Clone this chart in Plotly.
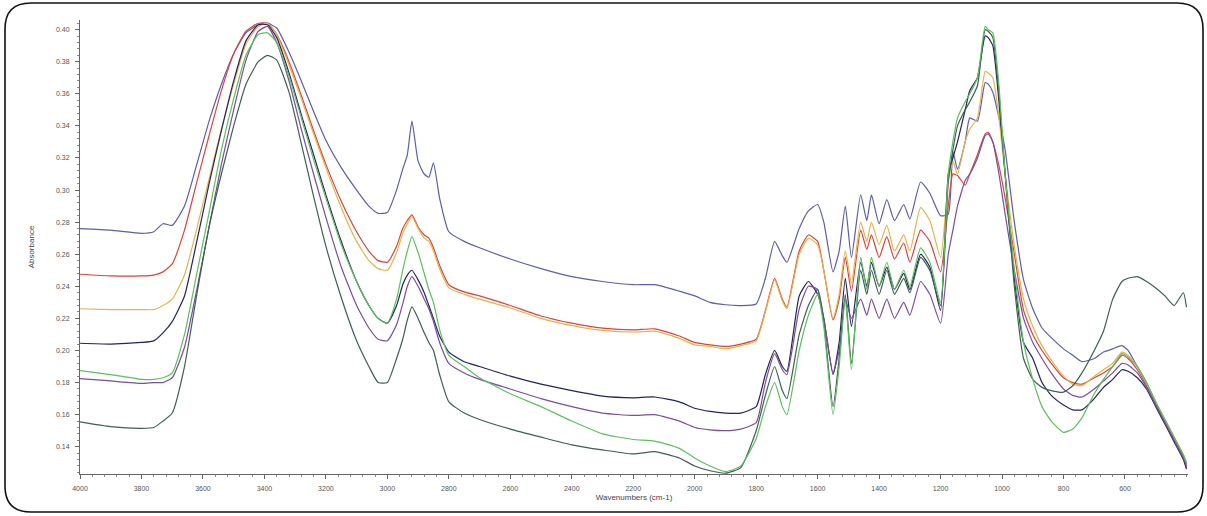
import plotly.graph_objects as go

wavenumbers = [4000, 3900, 3800, 3760, 3730, 3700, 3660, 3620, 3580, 3540,
               3500, 3460, 3420, 3390, 3360, 3320, 3280, 3240, 3200, 3150,
               3100, 3060, 3030, 3000, 2970, 2950, 2935, 2920, 2900, 2880,
               2865, 2850, 2830, 2800, 2750, 2700, 2600, 2500, 2400, 2300,
               2200, 2130, 2050, 2000, 1950,
               1900, 1850, 1800, 1770, 1740, 1715, 1700, 1660, 1630, 1600,
               1580, 1550, 1530, 1510, 1490, 1460, 1440, 1425, 1400, 1375,
               1350, 1320, 1300, 1265, 1235, 1200, 1175, 1160, 1145, 1120,
               1105, 1080, 1055, 1045, 1030, 1010,
               990, 960, 930, 900, 870, 840, 800, 770, 740, 700,
               670, 640, 610, 590, 560, 530, 500, 470, 440, 410,
               400]

blue = [0.276, 0.275, 0.273, 0.274, 0.279, 0.278, 0.290, 0.316, 0.343, 0.366,
        0.385, 0.398, 0.403, 0.404, 0.401, 0.386, 0.368, 0.349, 0.331, 0.314,
        0.300, 0.290, 0.2855, 0.286, 0.300, 0.313, 0.322, 0.343, 0.318, 0.310,
        0.308, 0.317, 0.295, 0.274, 0.268, 0.264, 0.257, 0.251, 0.246, 0.243,
        0.241, 0.241, 0.237, 0.234, 0.230,
        0.2285, 0.228, 0.229, 0.245, 0.268, 0.259, 0.255, 0.276, 0.287, 0.291,
        0.280, 0.249, 0.262, 0.290, 0.258, 0.297, 0.281, 0.297, 0.279, 0.294,
        0.281, 0.291, 0.282, 0.305, 0.298, 0.284, 0.285, 0.324, 0.313, 0.330,
        0.345, 0.343, 0.367, 0.366, 0.361, 0.345,
        0.325, 0.280, 0.244, 0.226, 0.214, 0.208, 0.201, 0.197, 0.193, 0.195,
        0.199, 0.201, 0.203, 0.200, 0.190, 0.180, 0.167, 0.156, 0.145, 0.134,
        0.129]

red = [0.2475, 0.2465, 0.2465, 0.247, 0.249, 0.254, 0.275, 0.305, 0.334, 0.362,
       0.385, 0.399, 0.404, 0.404, 0.397, 0.380, 0.359, 0.337, 0.316, 0.293,
       0.274, 0.262, 0.256, 0.255, 0.265, 0.276, 0.281, 0.2845, 0.277, 0.272,
       0.270, 0.264, 0.253, 0.241, 0.2365, 0.234, 0.228, 0.2215, 0.217, 0.2139,
       0.2128, 0.2135, 0.209, 0.205, 0.2035,
       0.2025, 0.204, 0.207, 0.225, 0.245, 0.232, 0.227, 0.262, 0.272, 0.268,
       0.250, 0.219, 0.232, 0.258, 0.237, 0.275, 0.263, 0.272, 0.258, 0.271,
       0.257, 0.267, 0.255, 0.275, 0.268, 0.249, 0.290, 0.310, 0.309, 0.303,
       0.310, 0.322, 0.335, 0.336, 0.330, 0.315,
       0.295, 0.260, 0.225, 0.210, 0.200, 0.192, 0.183, 0.180, 0.179, 0.183,
       0.186, 0.190, 0.197, 0.195, 0.188, 0.178, 0.166, 0.155, 0.144, 0.133,
       0.127]

orange = [0.226, 0.2255, 0.2255, 0.2255, 0.228, 0.232, 0.247, 0.276, 0.307, 0.338,
          0.366, 0.391, 0.402, 0.404, 0.397, 0.378, 0.357, 0.335, 0.314, 0.289,
          0.268, 0.256, 0.251, 0.250, 0.261, 0.273, 0.279, 0.2835, 0.276, 0.270,
          0.268, 0.262, 0.251, 0.239, 0.235, 0.232, 0.2265, 0.220, 0.2155, 0.2125,
          0.2115, 0.212, 0.2075, 0.2035, 0.2025,
          0.201, 0.203, 0.206, 0.224, 0.244, 0.231, 0.226, 0.260, 0.270, 0.266,
          0.250, 0.220, 0.235, 0.262, 0.242, 0.280, 0.268, 0.280, 0.266, 0.278,
          0.262, 0.272, 0.262, 0.289, 0.281, 0.258, 0.305, 0.318, 0.310, 0.330,
          0.338, 0.345, 0.374, 0.373, 0.370, 0.345,
          0.310, 0.265, 0.232, 0.215, 0.203, 0.194, 0.184, 0.179, 0.178, 0.184,
          0.188, 0.192, 0.199, 0.197, 0.190, 0.180, 0.168, 0.157, 0.146, 0.135,
          0.130]

navy = [0.2045, 0.204, 0.205, 0.206, 0.211, 0.218, 0.234, 0.268, 0.304, 0.337,
        0.368, 0.393, 0.403, 0.403, 0.395, 0.373, 0.347, 0.322, 0.297, 0.268,
        0.243, 0.228, 0.220, 0.217, 0.228, 0.241, 0.247, 0.250, 0.244, 0.236,
        0.228, 0.220, 0.209, 0.199, 0.193, 0.190, 0.184, 0.179, 0.175, 0.1715,
        0.1705, 0.171, 0.168, 0.164, 0.162,
        0.161, 0.161, 0.165, 0.185, 0.200, 0.190, 0.187, 0.234, 0.243, 0.235,
        0.220, 0.185, 0.205, 0.245, 0.215, 0.255, 0.240, 0.255, 0.240, 0.252,
        0.238, 0.248, 0.238, 0.260, 0.252, 0.225, 0.310, 0.320, 0.330, 0.350,
        0.362, 0.370, 0.396, 0.395, 0.390, 0.355,
        0.310, 0.245, 0.205, 0.195, 0.180, 0.172, 0.166, 0.163, 0.163, 0.170,
        0.177, 0.182, 0.188, 0.187, 0.183, 0.176, 0.165, 0.154, 0.143, 0.132,
        0.126]

green = [0.1875, 0.185, 0.182, 0.182, 0.183, 0.186, 0.210, 0.248, 0.286, 0.325,
         0.357, 0.384, 0.397, 0.398, 0.392, 0.371, 0.345, 0.319, 0.295, 0.266,
         0.243, 0.228, 0.220, 0.217, 0.232, 0.250, 0.262, 0.271, 0.261, 0.248,
         0.238, 0.230, 0.213, 0.197, 0.190, 0.183, 0.173, 0.165, 0.156, 0.148,
         0.1445, 0.1435, 0.139, 0.133, 0.128,
         0.1245, 0.128, 0.145, 0.165, 0.180, 0.165, 0.160, 0.200, 0.222, 0.235,
         0.215, 0.160, 0.190, 0.232, 0.188, 0.258, 0.238, 0.258, 0.240, 0.255,
         0.238, 0.250, 0.240, 0.264, 0.255, 0.230, 0.310, 0.330, 0.345, 0.355,
         0.360, 0.370, 0.402, 0.400, 0.398, 0.365,
         0.310, 0.250, 0.205, 0.182, 0.165, 0.156, 0.149, 0.151, 0.158, 0.173,
         0.182, 0.190, 0.198, 0.196, 0.190, 0.180, 0.168, 0.157, 0.146, 0.135,
         0.130]

purple = [0.1825, 0.181, 0.1795, 0.180, 0.180, 0.183, 0.202, 0.238, 0.277, 0.316,
          0.350, 0.381, 0.399, 0.402, 0.392, 0.368, 0.338, 0.310, 0.283, 0.252,
          0.228, 0.214, 0.207, 0.206, 0.216, 0.229, 0.240, 0.246, 0.240, 0.232,
          0.226, 0.218, 0.205, 0.192, 0.186, 0.182, 0.176, 0.170, 0.165, 0.161,
          0.1595, 0.160, 0.156, 0.152, 0.1505,
          0.150, 0.151, 0.155, 0.180, 0.198, 0.188, 0.185, 0.226, 0.240, 0.238,
          0.220, 0.186, 0.200, 0.232, 0.220, 0.232, 0.222, 0.232, 0.220, 0.232,
          0.220, 0.230, 0.222, 0.243, 0.235, 0.217, 0.260, 0.275, 0.290, 0.306,
          0.310, 0.320, 0.334, 0.335, 0.330, 0.310,
          0.285, 0.250, 0.220, 0.205, 0.195, 0.186, 0.176, 0.172, 0.171, 0.176,
          0.181, 0.186, 0.192, 0.191, 0.186, 0.177, 0.166, 0.155, 0.144, 0.133,
          0.128]

darkgreen = [0.1555, 0.1525, 0.1515, 0.152, 0.156, 0.161, 0.190, 0.235, 0.277, 0.310,
             0.340, 0.366, 0.380, 0.384, 0.381, 0.361, 0.329, 0.296, 0.265, 0.233,
             0.206, 0.190, 0.180, 0.180, 0.195, 0.207, 0.219, 0.2272, 0.220, 0.211,
             0.205, 0.200, 0.185, 0.168, 0.161, 0.157, 0.151, 0.146, 0.1412, 0.138,
             0.1355, 0.137, 0.133, 0.128, 0.125,
             0.1235, 0.127, 0.150, 0.172, 0.190, 0.175, 0.170, 0.210, 0.228, 0.238,
             0.218, 0.165, 0.195, 0.235, 0.192, 0.250, 0.235, 0.250, 0.235, 0.250,
             0.235, 0.245, 0.236, 0.258, 0.250, 0.228, 0.305, 0.325, 0.340, 0.350,
             0.355, 0.365, 0.400, 0.399, 0.395, 0.360,
             0.310, 0.240, 0.195, 0.182, 0.177, 0.175, 0.174, 0.178, 0.186, 0.200,
             0.212, 0.232, 0.243, 0.245, 0.246, 0.243, 0.239, 0.234, 0.228, 0.236,
             0.227]

series = [
    ("Sample 1", blue, "#5b5ea8"),
    ("Sample 2", red, "#d8453c"),
    ("Sample 3", orange, "#e8b24a"),
    ("Sample 4", navy, "#23235e"),
    ("Sample 5", purple, "#7a4e9c"),
    ("Sample 6", darkgreen, "#3e5e52"),
    ("Sample 7", green, "#5cc05c"),
]

x_ticks = list(range(4000, 599, -200))
y_ticks = [round(0.14 + 0.02 * i, 2) for i in range(14)]

fig = go.Figure()
for name, vals, col in series:
    assert len(vals) == len(wavenumbers), name
    fig.add_trace(go.Scatter(x=wavenumbers, y=vals, mode="lines", name=name,
                             line=dict(color=col, width=1.2, shape="spline", smoothing=0.5)))

W, H = 1207, 516
L, R, T, B = 80, 1188, 20, 474


def P(px, py):
    return f"{(px - L) / (R - L):.5f},{(B - py) / (B - T):.5f}"


x0, y0, x1, y1, r = 5, 3, 1203, 512, 26
path = (f"M {P(x0 + r, y0)} L {P(x1 - r, y0)} Q {P(x1, y0)} {P(x1, y0 + r)} "
        f"L {P(x1, y1 - r)} Q {P(x1, y1)} {P(x1 - r, y1)} "
        f"L {P(x0 + r, y1)} Q {P(x0, y1)} {P(x0, y1 - r)} "
        f"L {P(x0, y0 + r)} Q {P(x0, y0)} {P(x0 + r, y0)} Z")

fig.update_layout(
    width=W, height=H,
    margin=dict(l=L, r=W - R, t=T, b=H - B, autoexpand=False),
    paper_bgcolor="white", plot_bgcolor="white",
    showlegend=False,
    font=dict(family="Liberation Sans, Arial, sans-serif", size=7, color="#555555"),
    shapes=[dict(type="path", xref="paper", yref="paper", path=path,
                 line=dict(color="#111111", width=1.6), layer="above")],
)
fig.update_xaxes(range=[4000, 395], tickvals=x_ticks, ticktext=[str(t) for t in x_ticks],
                 showgrid=False, zeroline=False, showline=True, linecolor="#666666", linewidth=1,
                 ticks="outside", ticklen=4, tickcolor="#666666", ticklabelstandoff=4,
                 minor=dict(dtick=40, ticks="outside", ticklen=2, tickcolor="#888888"),
                 title=dict(text="Wavenumbers (cm-1)", font=dict(size=8, color="#444444"), standoff=2),
                 tickfont=dict(size=7, color="#555555"))
fig.update_yaxes(range=[0.123, 0.406], tickvals=y_ticks, ticktext=[f"{t:.2f}" for t in y_ticks],
                 showgrid=False, zeroline=False, showline=True, linecolor="#666666", linewidth=1,
                 ticks="outside", ticklen=4, tickcolor="#666666", ticklabelstandoff=4,
                 minor=dict(dtick=0.004, ticks="outside", ticklen=2, tickcolor="#888888"),
                 title=dict(text="Absorbance", font=dict(size=8, color="#444444"), standoff=20),
                 tickfont=dict(size=7, color="#555555"))

fig.write_html("out.html",
               config={"displayModeBar": False},
               post_script="document.body.style.margin='0';document.body.style.overflow='hidden';")
